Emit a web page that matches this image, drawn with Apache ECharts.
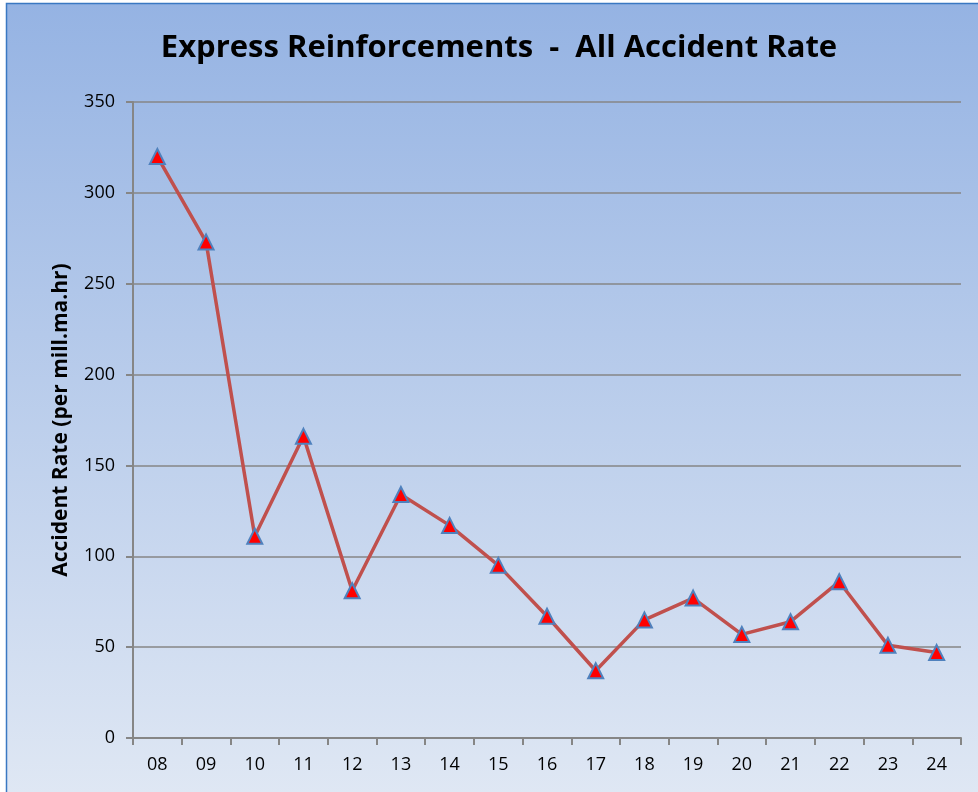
<!DOCTYPE html>
<html><head><meta charset="utf-8">
<script src="https://cdn.jsdelivr.net/npm/echarts@6/dist/echarts.min.js"></script>
<style>html,body{margin:0;padding:0;background:#fff}#c{width:978px;height:792px}</style>
</head><body><div id="c"></div>
<script>
var categories = ['08','09','10','11','12','13','14','15','16','17','18','19','20','21','22','23','24'];
var rates = [320,273,111,166,81,134,117,95,67,37,65,77,57,64,86,51,47];
var yTicks = {min:0, max:350, interval:50};
var titleText = 'Express Reinforcements  -  All Accident Rate';
var yName = 'Accident Rate (per mill.ma.hr)';

var chart = echarts.init(document.getElementById('c'), null, {renderer:'canvas'});
chart.setOption({
  animation:false,
  backgroundColor:'#ffffff',
  graphic:[{
    type:'rect', z:-10, silent:true,
    shape:{x:6.5, y:3.5, width:980, height:800},
    style:{
      fill:{type:'linear',x:0,y:0,x2:0,y2:1,colorStops:[{offset:0,color:'#95b3e3'},{offset:1,color:'#e0e8f4'}]},
      stroke:'#3a78c2', lineWidth:1.5
    }
  }],
  title:{
    text:titleText, left:494, top:28, textAlign:'center',
    textStyle:{fontFamily:'Open Sans', fontWeight:'bold', fontSize:31, color:'#000'}
  },
  grid:{left:133, right:17, top:102, bottom:54, containLabel:false},
  xAxis:{
    type:'category', data:categories, boundaryGap:true,
    axisLine:{lineStyle:{color:'#868686', width:2}},
    axisTick:{show:true, length:7, lineStyle:{color:'#868686', width:2}},
    axisLabel:{color:'#000', fontFamily:'Open Sans', fontSize:18, margin:18}
  },
  yAxis:{
    type:'value', min:yTicks.min, max:yTicks.max, interval:yTicks.interval,
    name:yName, nameLocation:'middle', nameGap:61,
    nameTextStyle:{fontFamily:'Open Sans', fontWeight:'bold', fontSize:21, color:'#000'},
    axisLine:{show:true, lineStyle:{color:'#868686', width:2}},
    axisTick:{show:true, length:7, lineStyle:{color:'#868686', width:2}},
    axisLabel:{color:'#000', fontFamily:'Open Sans', fontSize:18, margin:18},
    splitLine:{lineStyle:{color:'#868686', width:1.5}}
  },
  series:[{
    type:'line', data:rates,
    symbol:'triangle', symbolSize:15,
    lineStyle:{color:'#c0504d', width:3.5},
    itemStyle:{color:'#ff0000', borderColor:'#4f81bd', borderWidth:2},
    z:5
  }]
});
</script></body></html>
